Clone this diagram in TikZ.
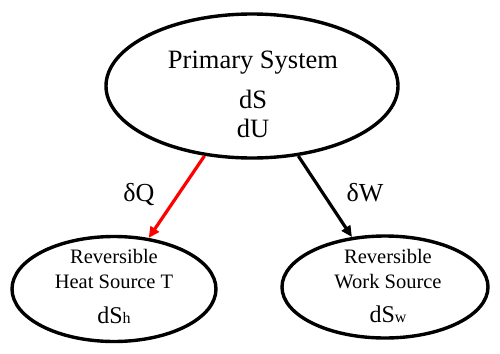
\documentclass[tikz,border=0pt]{standalone}
\usepackage{fontspec}
\setmainfont{Liberation Serif}
\usetikzlibrary{arrows.meta,shapes.geometric}

\begin{document}
\begin{tikzpicture}[x=1pt,y=-1pt,>={Triangle[length=11pt,width=10pt]},
oval/.style={draw,ellipse,line width=3.4pt,inner sep=0pt},
txt/.style={align=center,anchor=base,inner sep=0pt},
arr/.style={->,line width=3.2pt}]
\useasboundingbox (0,0) rectangle (500,353);
% ellipses
\node[oval,minimum width=292pt,minimum height=144pt] (prim) at (252,86) {};
\node[oval,minimum width=204pt,minimum height=105pt] (heat) at (114,289) {};
\node[oval,minimum width=206pt,minimum height=102pt] (work) at (385,287) {};
% texts (base = last line)
\node[txt,font=\fontsize{26.5}{29}\selectfont] (primtxt) at (253,137)
  {Primary System\\[11pt]dS\\dU};
\node[txt,font=\fontsize{20.5}{25}\selectfont] (heattxt) at (114,323)
  {Reversible\\Heat Source T\\[10pt]{\fontsize{24}{25}\selectfont dS}{\fontsize{16}{25}\selectfont h}};
\node[txt,font=\fontsize{20.5}{25}\selectfont] (worktxt) at (388,322)
  {Reversible\\Work Source\\[9pt]{\fontsize{24}{25}\selectfont dS}{\fontsize{16}{25}\selectfont w}};
% flows
\draw[arr,red] (prim) -- (heat);
\draw[arr] (prim) -- (work);
\node[txt,font=\fontsize{26}{28}\selectfont] (qlab) at (139,201) {δQ};
\node[txt,font=\fontsize{26}{28}\selectfont] (wlab) at (365,201) {δW};
\end{tikzpicture}
\end{document}
